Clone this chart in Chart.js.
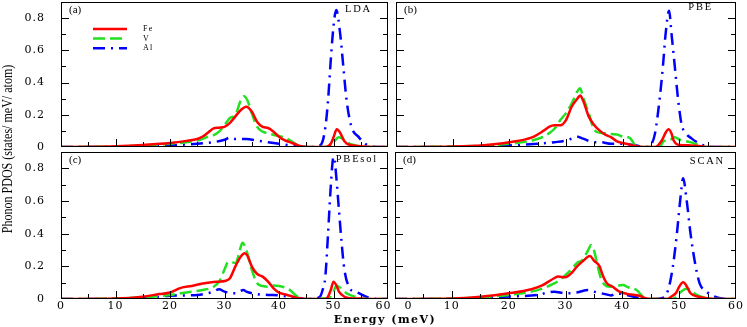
<!DOCTYPE html>
<html>
<head>
<meta charset="utf-8">
<script src="https://cdn.jsdelivr.net/npm/chart.js@4.4.0/dist/chart.umd.min.js"></script>
<style>
  body { margin: 0; background: #fff; }
  #wrap { position: relative; width: 747px; height: 327px; overflow: hidden; background: #fff; }
  .panel { position: absolute; }
  #ytitle {
    position: absolute; left: -92px; top: 141px; width: 200px; height: 16px; line-height: 16px;
    text-align: center; white-space: nowrap; font: 14px "Liberation Serif";
    transform: rotate(-90deg) scaleX(0.86);
  }
  #xtitle {
    position: absolute; left: 285px; top: 313px; width: 200px; height: 16px; line-height: 16px;
    text-align: center; white-space: nowrap; font: bold 11px "DejaVu Serif"; letter-spacing: 1.5px;
  }
</style>
</head>
<body>
<div id="wrap">
  <canvas class="panel" id="pa" width="392" height="150" style="left:0;top:0"></canvas>
  <canvas class="panel" id="pb" width="355" height="150" style="left:392px;top:0"></canvas>
  <canvas class="panel" id="pc" width="392" height="177" style="left:0;top:150px"></canvas>
  <canvas class="panel" id="pd" width="355" height="177" style="left:392px;top:150px"></canvas>
  <div id="ytitle">Phonon PDOS (states/ meV/ atom)</div>
  <div id="xtitle">Energy (meV)</div>
</div>
<script>
// Axis ticks
const X_TICKS = [0, 10, 20, 30, 40, 50, 60];
const X_MINOR = [5, 15, 25, 35, 45, 55];
const Y_TICKS = [0, 0.2, 0.4, 0.6, 0.8];
const Y_MINOR = [0.1, 0.3, 0.5, 0.7];
const SERIES_NAMES = ['Fe', 'V', 'Al'];

// (a) LDA  -- [energy meV, PDOS]
const LDA_FE = [[0,0],[5,0.001],[10,0.005],[15,0.013],[20,0.025],[23,0.038],[25,0.05],[26,0.065],[27,0.09],[28,0.115],[29,0.12],[30,0.125],[31,0.15],[32,0.19],[33,0.23],[34,0.25],[35,0.22],[36,0.155],[37,0.125],[38,0.118],[39,0.095],[40,0.063],[41,0.042],[42,0.03],[43,0.017],[44,0.005],[45,0],[48.5,0],[49.5,0.02],[50,0.06],[50.6,0.11],[51.2,0.09],[52,0.035],[53,0.012],[55,0.005],[57,0],[60,0]];
const LDA_V = [[0,0],[10,0.003],[15,0.01],[20,0.02],[25,0.04],[27,0.063],[28,0.073],[29,0.095],[30,0.135],[31,0.18],[32,0.2],[33,0.29],[33.6,0.315],[34.2,0.29],[35,0.21],[36,0.125],[37,0.095],[38,0.085],[39,0.075],[40,0.068],[41,0.06],[42,0.042],[43,0.02],[44,0.005],[45,0],[49,0],[50,0.03],[51,0.06],[52,0.045],[53,0.02],[54,0.01],[55,0.003],[56,0],[60,0]];
const LDA_AL = [[0,0],[10,0],[15,0.005],[20,0.01],[25,0.02],[28,0.03],[30,0.045],[31,0.058],[32,0.05],[34,0.05],[36,0.04],[38,0.03],[40,0.02],[42,0.01],[44,0.003],[46,0],[47,0.005],[47.8,0.02],[48.5,0.12],[49,0.29],[49.5,0.54],[50,0.75],[50.5,0.85],[51.2,0.71],[51.8,0.5],[52.4,0.29],[53.3,0.125],[54.6,0.063],[55.8,0.02],[57,0.005],[58,0],[60,0]];

// (b) PBE
const PBE_FE = [[0,0],[10,0.003],[15,0.01],[20,0.03],[24,0.06],[26,0.1],[27,0.125],[28,0.135],[29,0.135],[30,0.167],[31,0.25],[32,0.3],[32.5,0.32],[33,0.29],[34,0.19],[35,0.135],[36,0.1],[37,0.075],[38,0.06],[39,0.035],[40,0.025],[41,0.017],[42,0.008],[43.6,0],[45.8,0],[46.9,0.04],[47.6,0.09],[48.1,0.11],[48.6,0.085],[49,0.04],[50,0.012],[52,0.01],[54,0.004],[55,0],[60,0]];
const PBE_V = [[0,0],[10,0.003],[15,0.008],[20,0.02],[24,0.04],[26,0.063],[27,0.085],[28,0.115],[29,0.167],[30,0.21],[31,0.27],[32,0.345],[32.5,0.365],[33,0.31],[34,0.21],[35,0.105],[36,0.088],[37,0.085],[38,0.08],[39,0.078],[40,0.065],[41.3,0.055],[42,0.02],[42.5,0],[46.5,0],[47.2,0.035],[48.4,0.045],[49.2,0.06],[50.1,0.045],[51.9,0.03],[53.6,0.01],[55,0],[60,0]];
const PBE_AL = [[0,0],[10,0],[15,0.005],[20,0.01],[25,0.02],[28,0.03],[30,0.04],[31,0.052],[32,0.063],[33,0.052],[35,0.03],[36,0.03],[38,0.02],[40,0.02],[42,0.012],[44,0],[45.1,0.02],[45.7,0.083],[46.5,0.29],[47.1,0.5],[47.6,0.71],[48.2,0.846],[48.6,0.71],[49.2,0.5],[49.8,0.29],[50.4,0.14],[51.2,0.083],[52.2,0.052],[53.6,0.02],[54.8,0.005],[56,0],[60,0]];

// (c) PBEsol
const PBESOL_FE = [[0,0],[10,0.003],[15,0.014],[18,0.03],[20,0.04],[22,0.068],[24,0.08],[26,0.095],[27,0.1],[28,0.104],[29,0.106],[30,0.11],[31,0.127],[32,0.2],[33,0.26],[33.7,0.28],[34.2,0.265],[35,0.2],[36,0.153],[37,0.137],[38,0.106],[39,0.065],[40,0.039],[41,0.029],[42,0.02],[43,0.01],[44,0.003],[45,0],[48.5,0],[49,0.015],[49.5,0.055],[50,0.106],[50.5,0.085],[51,0.045],[52,0.014],[53,0.005],[55,0.003],[56,0],[60,0]];
const PBESOL_V = [[0,0],[10,0.003],[15,0.01],[20,0.025],[22,0.035],[24,0.045],[26,0.055],[28,0.075],[29,0.106],[30,0.18],[30.5,0.22],[31,0.228],[32,0.22],[33,0.32],[33.3,0.345],[34,0.3],[35,0.18],[36,0.096],[37,0.08],[38,0.075],[39,0.082],[40,0.08],[41,0.071],[42,0.055],[43,0.025],[44,0.004],[45,0],[49,0.004],[50,0.045],[50.5,0.08],[51,0.075],[52,0.045],[53,0.025],[54,0.014],[55,0.005],[56,0],[60,0]];
const PBESOL_AL = [[0,0],[10,0],[15,0.005],[20,0.02],[25,0.025],[28,0.045],[29,0.06],[30,0.045],[32,0.035],[33.5,0.055],[34,0.045],[36,0.03],[38,0.025],[40,0.022],[42,0.014],[44,0.003],[46,0],[47.5,0.014],[48,0.055],[48.5,0.137],[49,0.4],[49.5,0.69],[50,0.87],[50.3,0.82],[51,0.545],[51.5,0.34],[52,0.18],[53,0.065],[54,0.045],[55,0.03],[56,0.014],[57,0.004],[58,0],[60,0]];

// (d) SCAN
const SCAN_FE = [[0,0],[10,0.003],[15,0.014],[20,0.035],[24,0.06],[26,0.085],[27,0.106],[28,0.127],[28.7,0.137],[30,0.133],[31,0.157],[32,0.198],[33,0.23],[34,0.26],[34.3,0.263],[35,0.235],[36,0.2],[36.5,0.15],[37.2,0.1],[38.3,0.075],[39.5,0.045],[41,0.03],[43,0.02],[44.2,0.003],[45,0],[48,0],[48.6,0.014],[49.5,0.04],[50,0.075],[50.7,0.102],[51.3,0.08],[52,0.035],[53.4,0.014],[54,0.01],[55,0.005],[56,0],[60,0]];
const SCAN_V = [[0,0],[10,0.003],[15,0.01],[20,0.025],[24,0.045],[26,0.065],[28,0.096],[29,0.116],[30,0.147],[31,0.18],[32,0.22],[33,0.24],[34,0.3],[34.5,0.33],[35,0.3],[35.6,0.21],[36.2,0.13],[36.9,0.086],[37.8,0.075],[39,0.082],[40.1,0.086],[41,0.072],[42.5,0.055],[43.2,0.03],[44,0.004],[45,0],[48.5,0],[49.2,0.005],[50,0.035],[51.4,0.065],[52.2,0.045],[53.1,0.025],[54.8,0.005],[56,0],[60,0]];
const SCAN_AL = [[0,0],[10,0],[15,0.005],[20,0.015],[25,0.025],[28,0.045],[30,0.035],[32,0.04],[34,0.055],[35,0.045],[37,0.03],[38,0.022],[39,0.035],[40,0.03],[42,0.014],[43,0.005],[44,0],[46,0],[47.5,0.014],[48.1,0.06],[48.5,0.12],[48.9,0.2],[49.6,0.4],[50.2,0.61],[50.7,0.74],[51.3,0.61],[52,0.4],[52.9,0.2],[53.6,0.096],[54.8,0.045],[56.3,0.014],[57.5,0.003],[58.5,0],[60,0]];

const COLORS = ['#ff0000', '#22e022', '#0000ff'];
const DASHES = [[], [12, 5], [12, 6, 2, 6]];

// Frame, inward ticks, panel labels and legend
const framePlugin = {
  id: 'frame',
  beforeDraw(chart) {
    chart.ctx.letterSpacing = '1px';
  },
  afterDraw(chart, args, opts) {
    const { ctx, chartArea: a, scales: { x, y } } = chart;
    ctx.save();
    ctx.letterSpacing = '0px';
    ctx.setLineDash([]);
    ctx.strokeStyle = '#000';
    ctx.lineWidth = 1;
    ctx.strokeRect(a.left + 0.5, a.top + 0.5, a.right - a.left - 1, a.bottom - a.top - 1);

    ctx.beginPath();
    X_TICKS.concat(X_MINOR).forEach(v => {
      if (v <= 0 || v >= 60) return;
      const px = Math.round(x.getPixelForValue(v)) + 0.5;
      const len = X_TICKS.includes(v) ? 8 : 5;
      ctx.moveTo(px, a.bottom);
      ctx.lineTo(px, a.bottom - len);
    });
    Y_TICKS.concat(Y_MINOR).forEach(v => {
      if (v <= 0) return;
      const py = Math.round(y.getPixelForValue(v)) + 0.5;
      const len = Y_TICKS.includes(v) ? 8 : 5;
      ctx.moveTo(a.left, py);
      ctx.lineTo(a.left + len, py);
      ctx.moveTo(a.right, py);
      ctx.lineTo(a.right - len, py);
    });
    ctx.stroke();

    ctx.fillStyle = '#000';
    ctx.textBaseline = 'middle';
    ctx.font = '11px "Liberation Serif"';
    ctx.textAlign = 'left';
    ctx.fillText(opts.tag, a.left + 8, a.top + 8);

    ctx.font = '10.5px "Liberation Serif"';
    ctx.letterSpacing = '1.8px';
    ctx.textAlign = 'right';
    ctx.fillText(opts.name, a.right - opts.nameDx, a.top + opts.nameDy);

    if (opts.legend) {
      ctx.font = '8px "Liberation Serif"';
      ctx.letterSpacing = '1.2px';
      ctx.textAlign = 'left';
      chart.data.datasets.forEach((ds, i) => {
        const ly = a.top + 27 + i * 9.6;
        ctx.save();
        ctx.strokeStyle = ds.borderColor;
        ctx.lineWidth = 2.5;
        ctx.setLineDash(ds.borderDash);
        ctx.beginPath();
        ctx.moveTo(a.left + 32, ly);
        ctx.lineTo(a.left + 66, ly);
        ctx.stroke();
        ctx.restore();
        ctx.fillText(ds.label, a.left + 82, ly);
      });
    }
    ctx.restore();
  }
};

function makePanel(id, data, p) {
  const datasets = data.map((d, i) => ({
    label: SERIES_NAMES[i],
    data: d,
    borderColor: COLORS[i],
    borderDash: DASHES[i],
    borderWidth: 2.5,
    pointRadius: 0,
    fill: false,
    cubicInterpolationMode: 'monotone'
  }));
  const tickFont = { family: 'DejaVu Serif', size: 11 };
  return new Chart(document.getElementById(id), {
    type: 'line',
    data: { datasets },
    plugins: [framePlugin],
    options: {
      responsive: false,
      animation: false,
      events: [],
      layout: { padding: { top: 2, right: p.padRight, left: 0, bottom: 0 } },
      plugins: {
        legend: { display: false },
        tooltip: { enabled: false },
        frame: { tag: p.tag, name: p.name, nameDx: p.nameDx, nameDy: p.nameDy, legend: !!p.legend }
      },
      scales: {
        x: {
          type: 'linear', min: 0, max: 60,
          afterBuildTicks: s => { s.ticks = X_TICKS.map(v => ({ value: v })); },
          afterFit: s => {
            s.height = p.xHeight;
            s.paddingLeft = 0; s.paddingRight = 0; s.paddingTop = 0; s.paddingBottom = 0;
          },
          grid: { display: false },
          border: { display: false },
          ticks: {
            display: p.showX, padding: -7, color: '#000', font: tickFont,
            autoSkip: false, maxRotation: 0,
            callback: v => (p.xLabel ? p.xLabel(v) : String(v))
          }
        },
        y: {
          min: 0, max: 0.9,
          afterBuildTicks: s => { s.ticks = Y_TICKS.map(v => ({ value: v })); },
          afterFit: s => {
            s.width = p.yWidth;
            s.paddingLeft = 0; s.paddingRight = 0; s.paddingTop = 0; s.paddingBottom = 0;
          },
          grid: { display: false },
          border: { display: false },
          ticks: {
            display: p.showY, padding: 8, color: '#000', font: tickFont,
            callback: v => (v === 0 ? '0' : v.toFixed(1))
          }
        }
      }
    }
  });
}

makePanel('pa', [LDA_FE, LDA_V, LDA_AL], {
  tag: '(a)', name: 'LDA', nameDx: 16, nameDy: 7, legend: true,
  showX: false, showY: true, yWidth: 61, xHeight: 3, padRight: 4
});
makePanel('pb', [PBE_FE, PBE_V, PBE_AL], {
  tag: '(b)', name: 'PBE', nameDx: 23, nameDy: 5,
  showX: false, showY: false, yWidth: 4, xHeight: 3, padRight: 11
});
makePanel('pc', [PBESOL_FE, PBESOL_V, PBESOL_AL], {
  tag: '(c)', name: 'PBEsol', nameDx: 10, nameDy: 7,
  showX: true, showY: true, yWidth: 61, xHeight: 28, padRight: 4,
  xLabel: v => (v === 60 ? '60  ' : String(v))
});
makePanel('pd', [SCAN_FE, SCAN_V, SCAN_AL], {
  tag: '(d)', name: 'SCAN', nameDx: 11, nameDy: 9,
  showX: true, showY: false, yWidth: 3, xHeight: 28, padRight: 11,
  xLabel: v => (v === 0 ? '      0' : String(v))
});
</script>
</body>
</html>
